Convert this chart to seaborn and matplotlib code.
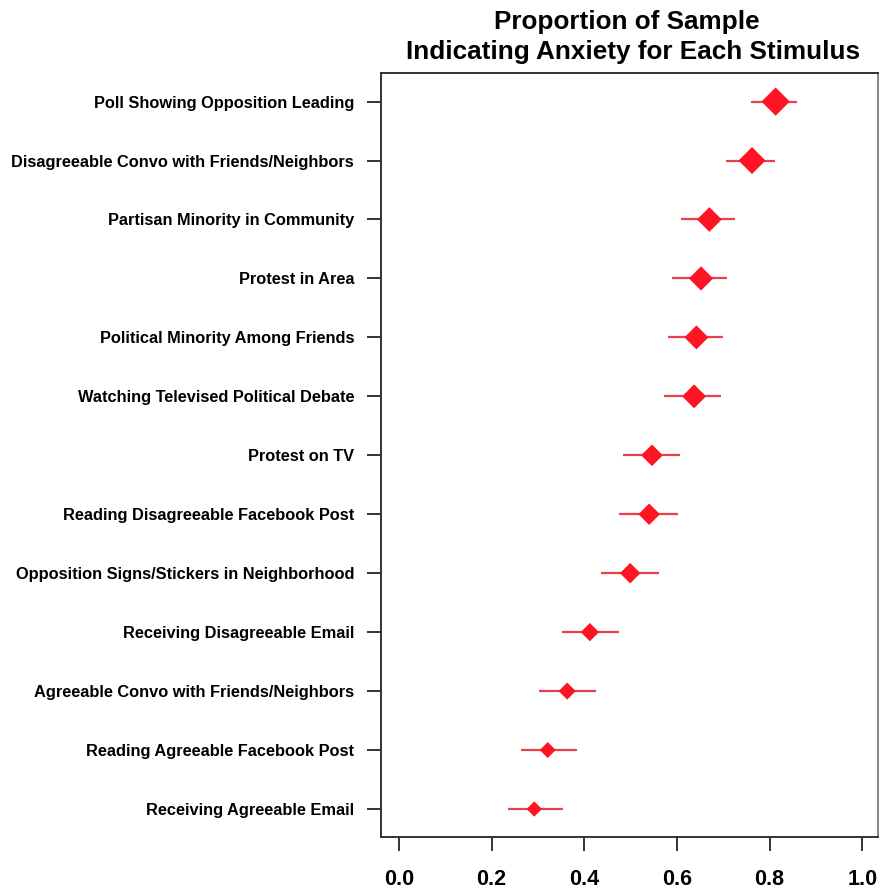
import numpy as np
import pandas as pd
import matplotlib
matplotlib.use('Agg')
import matplotlib.pyplot as plt
import seaborn as sns

# Данные
stimuli = [
    'Poll Showing Opposition Leading',
    'Disagreeable Convo with Friends/Neighbors',
    'Partisan Minority in Community',
    'Protest in Area',
    'Political Minority Among Friends',
    'Watching Televised Political Debate',
    'Protest on TV',
    'Reading Disagreeable Facebook Post',
    'Opposition Signs/Stickers in Neighborhood',
    'Receiving Disagreeable Email',
    'Agreeable Convo with Friends/Neighbors',
    'Reading Agreeable Facebook Post',
    'Receiving Agreeable Email',
]
proportion = [0.813, 0.762, 0.670, 0.652, 0.642, 0.637, 0.546, 0.540, 0.499, 0.412, 0.363, 0.321, 0.292]
ci_low = [0.760, 0.706, 0.609, 0.590, 0.581, 0.573, 0.483, 0.475, 0.436, 0.352, 0.303, 0.264, 0.235]
ci_high = [0.860, 0.812, 0.726, 0.708, 0.700, 0.695, 0.607, 0.603, 0.562, 0.475, 0.426, 0.384, 0.354]
x_ticks = [0.0, 0.2, 0.4, 0.6, 0.8, 1.0]
title_lines = ['Proportion of Sample', 'Indicating Anxiety for Each Stimulus']

COLORS = {
    'point': '#FF1424',
    'ci': '#E8404C',
}

df = pd.DataFrame({
    'stimulus': stimuli,
    'prop': proportion,
    'lo': ci_low,
    'hi': ci_high,
})
n = len(df)
df['pos'] = n - 1 - np.arange(n)

# размер ромба растёт с долей
width_pt = (8 + 25 * df['prop']) * 72 / 100
df['s'] = width_pt ** 2 / 2

sns.set_style('white')
plt.rcParams['font.family'] = ['Liberation Sans', 'DejaVu Sans']
plt.rcParams['font.weight'] = 'bold'
plt.rcParams['text.color'] = 'black'
plt.rcParams['xtick.color'] = 'black'
plt.rcParams['ytick.color'] = 'black'

fig = plt.figure(figsize=(8.8, 8.89), dpi=100)
ax = fig.add_axes([380.5 / 880, 1 - 837.3 / 889, (878 - 380.5) / 880, (837.3 - 73.3) / 889])

ax.hlines(df['pos'], df['lo'], df['hi'], color=COLORS['ci'], linewidth=1.6, zorder=2)
sns.scatterplot(data=df, x='prop', y='pos', marker='D', s=df['s'].values,
                color=COLORS['point'], edgecolor='none', linewidth=0, ax=ax, zorder=3)

ax.set_xlim(-0.04, 1.034)
ax.set_ylim(-0.48, n - 1 + 0.48)
ax.set_xticks(x_ticks)
ax.set_xticklabels([f'{t:.1f}' for t in x_ticks], fontsize=15.5, fontweight='bold')
ax.set_yticks(df['pos'])
ax.set_yticklabels(df['stimulus'], fontsize=11.8, fontweight='bold')
ax.tick_params(axis='both', direction='out', length=10, width=1.2, color='#111111',
               left=True, bottom=True)
ax.tick_params(axis='x', pad=13)
ax.tick_params(axis='y', pad=9)
for side, sp in ax.spines.items():
    sp.set_visible(True)
    sp.set_linewidth(1.4)
    sp.set_color('#333333')
ax.spines['right'].set_color('#888888')
ax.set_xlabel('')
ax.set_ylabel('')

fig.text(627 / 880, 1 - 29 / 889, title_lines[0], ha='center', va='baseline',
         fontsize=18.8, fontweight='bold')
fig.text(633 / 880, 1 - 59 / 889, title_lines[1], ha='center', va='baseline',
         fontsize=18.8, fontweight='bold')

fig.savefig('out.png', dpi=100)
